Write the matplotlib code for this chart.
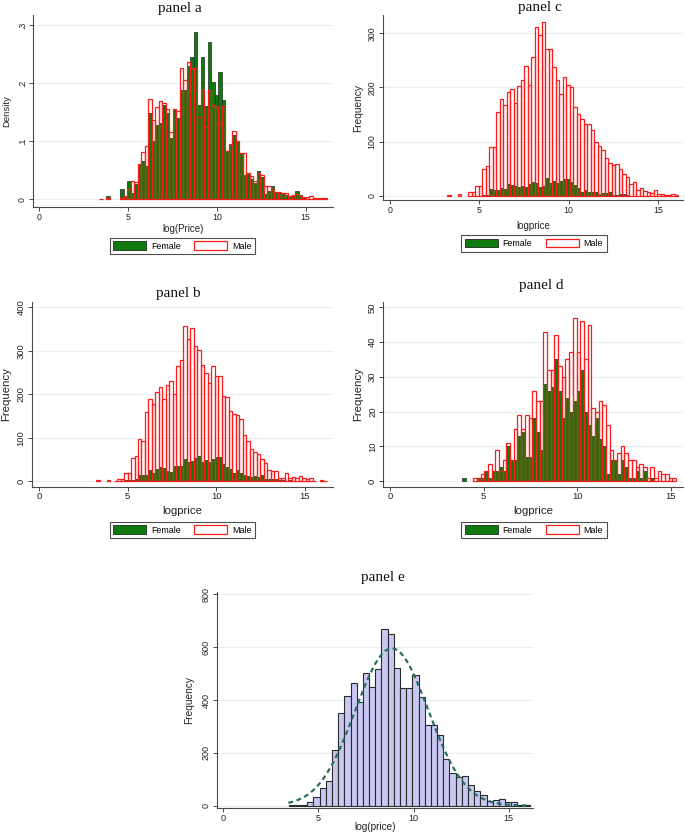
import matplotlib
matplotlib.use('Agg')
import matplotlib.pyplot as plt
import numpy as np
from matplotlib.patches import Patch

plt.rcParams['font.family'] = ['Liberation Sans', 'DejaVu Sans']

# ---------------- data ----------------
x_ticks = [0, 5, 10, 15]

# panel a (density)
a_start, a_width = 3.38, 0.197
a_female = [0, 0, 0.006, 0, 0, 0, 0.018, 0.004, 0.031, 0.010, 0.027, 0.061, 0.066, 0.058,
            0.149, 0.100, 0.127, 0.131, 0.162, 0.148, 0.105, 0.153, 0.140, 0.188, 0.188,
            0.230, 0.244, 0.288, 0.162, 0.244, 0.160, 0.271, 0.202, 0.180, 0.219, 0.171,
            0.083, 0.093, 0.110, 0.099, 0.079, 0.041, 0.046, 0.035, 0.028, 0.049, 0.039,
            0.009, 0.015, 0.022, 0.010, 0.012, 0.009, 0.007, 0.006, 0.006, 0.014, 0.008, 0.003]
a_male = [0.001, 0, 0.002, 0, 0, 0, 0.002, 0.006, 0.018, 0.032, 0.030, 0.061, 0.081, 0.091,
          0.172, 0.136, 0.158, 0.169, 0.166, 0.156, 0.116, 0.155, 0.152, 0.226, 0.205,
          0.237, 0.225, 0.226, 0.141, 0.188, 0.125, 0.188, 0.163, 0.161, 0.132, 0.160,
          0.083, 0.095, 0.118, 0.101, 0.079, 0.079, 0.046, 0.040, 0.032, 0.045, 0.042,
          0.022, 0.022, 0.018, 0.013, 0.013, 0.011, 0.010, 0.006, 0.008, 0.009, 0.006,
          0.004, 0.004, 0.005, 0.002, 0.002, 0.002, 0.002]
a_yticks = [0, 0.1, 0.2, 0.3]
a_yticklabels = ['0', '.1', '.2', '.3']

# panel b (frequency)
b_start, b_width = 3.22, 0.197
b_female = [0, 0, 0, 0, 0, 0, 1, 0, 2, 3, 2, 5, 14, 14, 13, 25, 19, 28, 32, 30,
            23, 20, 35, 35, 35, 50, 43, 47, 52, 57, 43, 49, 43, 50, 55, 56, 40, 33, 28, 18,
            25, 18, 13, 12, 10, 11, 10, 13, 5, 5, 5, 5, 2, 3, 1, 2, 1]
b_male = [2, 0, 0, 2, 0, 1, 5, 4, 18, 18, 54, 58, 97, 92, 160, 189, 177, 206, 217, 188,
          221, 231, 200, 266, 279, 357, 327, 352, 311, 302, 267, 249, 225, 266, 242, 243,
          197, 193, 161, 154, 151, 142, 107, 92, 73, 66, 63, 51, 42, 25, 24, 23, 8, 6, 18,
          6, 10, 6, 12, 6, 4, 6, 1, 0, 3, 1]
b_yticks = [0, 100, 200, 300, 400]

# panel c (frequency)
c_start, c_width = 3.21, 0.196
c_female = [0, 0, 0, 0, 0, 0, 0, 0, 0, 0, 1, 1, 12, 11, 10, 15, 13, 21, 19, 17,
            16, 17, 16, 21, 26, 23, 16, 17, 32, 23, 28, 23, 28, 30, 31, 26, 20, 15, 7, 10,
            7, 6, 7, 4, 5, 5, 7, 2, 1, 3, 3, 1]
c_male = [1, 0, 0, 4, 0, 0, 6, 6, 17, 17, 49, 55, 89, 89, 155, 178, 168, 192, 198, 172,
          203, 214, 240, 205, 257, 312, 297, 321, 271, 271, 237, 214, 188, 219, 205, 200,
          163, 150, 141, 133, 133, 121, 100, 92, 85, 69, 60, 57, 58, 50, 40, 35, 22, 25,
          10, 15, 8, 6, 5, 10, 3, 4, 1, 1, 3, 1]
c_yticks = [0, 100, 200, 300]

# panel d (frequency)
d_start, d_width = 3.85, 0.197
d_female = [1, 0, 0, 0, 1, 1, 3, 1, 3, 3, 4, 3, 10, 6, 6, 13, 14, 7, 7, 18,
            14, 9, 28, 26, 27, 35, 26, 18, 24, 20, 23, 26, 32, 20, 16, 13, 18, 12, 10, 2,
            6, 6, 2, 6, 4, 1, 1, 3, 1, 3, 0, 1]
d_male = [0, 0, 0, 1, 1, 2, 3, 5, 3, 9, 3, 6, 11, 6, 15, 19, 15, 19, 18, 26,
          23, 23, 43, 32, 32, 42, 33, 30, 35, 37, 47, 37, 46, 35, 45, 21, 20, 23, 22, 16,
          9, 6, 8, 10, 8, 6, 6, 4, 5, 4, 1, 4, 1, 3, 2, 2, 1, 1]
d_yticks = [0, 10, 20, 30, 40, 50]

# panel e (frequency, all)
e_start, e_width = 3.44, 0.325
e_counts = [1, 3, 2, 14, 32, 66, 92, 209, 350, 416, 464, 392, 503, 449, 517, 670, 650,
            520, 445, 447, 493, 411, 307, 304, 269, 177, 122, 110, 112, 78, 56, 39, 19,
            20, 25, 13, 13, 2, 3]
e_yticks = [0, 200, 400, 600, 800]
e_mean, e_sd = 8.86, 1.92
e_range = (3.42, 16.05)

# ---------------- style ----------------
W, H = 685, 835
GREEN = '#0f7a0f'
RED = '#ff1a1a'
GRID = '#e6eef0'
SPINE = '#4a4a4a'

fig = plt.figure(figsize=(W / 100, H / 100), dpi=100)
fig.patch.set_facecolor('white')


def make_axes(l, t, r, b):
    ax = fig.add_axes([l / W, 1 - b / H, (r - l) / W, (b - t) / H])
    for s in ['top', 'right']:
        ax.spines[s].set_visible(False)
    for s in ['left', 'bottom']:
        ax.spines[s].set_color(SPINE)
        ax.spines[s].set_linewidth(0.8)
    ax.tick_params(colors=SPINE, length=3, width=0.7, direction='out')
    ax.set_axisbelow(True)
    return ax, (l, t, r, b)


def style(ax, box, xlim, ylim, yticks, ytl, tick_fs, xlabel, ylabel, label_fs_x, label_fs_y,
          xlab_y, ylab_x):
    l, t, r, b = box
    ax.set_xlim(*xlim)
    ax.set_ylim(*ylim)
    ax.set_xticks(x_ticks)
    ax.set_xticklabels([str(v) for v in x_ticks], fontsize=tick_fs, color='#222222')
    ax.set_yticks(yticks)
    ax.set_yticklabels(ytl, fontsize=tick_fs, color='#222222', rotation=90, va='center')
    ax.tick_params(axis='x', pad=1)
    ax.tick_params(axis='y', pad=1.5)
    ax.yaxis.grid(True, color=GRID, linewidth=0.8)
    ax.set_xlabel(xlabel, fontsize=label_fs_x, color='#222222')
    ax.xaxis.set_label_coords(0.5, (b - xlab_y) / (b - t))
    ax.xaxis.label.set_va('center')
    ax.set_ylabel(ylabel, fontsize=label_fs_y, color='#222222')
    ax.yaxis.set_label_coords((ylab_x - l) / (r - l), 0.5)
    ax.yaxis.label.set_va('center')


def draw_gender(ax, start, width, female, male):
    f = np.asarray(female, float)
    m = np.asarray(male, float)
    fl = start + width * np.arange(len(f))
    ml = start + width * np.arange(len(m))
    fk = f > 0
    mk = m > 0
    ax.bar(fl[fk], f[fk], width=width, align='edge', color=GREEN, edgecolor='#1c2a1c',
           linewidth=0.5, zorder=2)
    ax.bar(ml[mk], m[mk], width=width, align='edge', facecolor='none', edgecolor=RED,
           linewidth=0.9, zorder=3)


def legend_at(cx, cy, fs):
    handles = [Patch(facecolor=GREEN, edgecolor='#1c2a1c', linewidth=0.6, label='Female'),
               Patch(facecolor='white', edgecolor=RED, linewidth=0.9, label='Male')]
    lg = fig.legend(handles=handles, loc='center', bbox_to_anchor=(cx / W, 1 - cy / H),
                    ncol=2, fontsize=fs, frameon=True, fancybox=False, handlelength=3.7,
                    handleheight=1.05, handletextpad=0.55, columnspacing=1.5,
                    borderpad=0.42, borderaxespad=0)
    lg.get_frame().set_edgecolor('#222222')
    lg.get_frame().set_linewidth(0.8)


def title_at(cx, cy, s):
    fig.text(cx / W, 1 - cy / H, s, ha='center', va='center', fontsize=11,
             family=['Liberation Serif', 'DejaVu Serif'], color='#111111')


# panel a
ax, box = make_axes(33.3, 15, 333, 207.3)
draw_gender(ax, a_start, a_width, a_female, a_male)
style(ax, box, (-0.32, 16.54), (-0.0138, 0.317), a_yticks, a_yticklabels, 6.3,
      'log(Price)', 'Density', 7, 6.8, 229.3, 6.7)
legend_at(182.5, 246, 6.4)
title_at(180, 8.3, 'panel a')

# panel c
ax, box = make_axes(382.7, 15, 683, 200)
draw_gender(ax, c_start, c_width, c_female, c_male)
style(ax, box, (-0.41, 16.41), (-8, 333.8), c_yticks, [str(v) for v in c_yticks], 6.3,
      'logprice', 'Frequency', 7, 7.3, 226, 358.3)
legend_at(534, 243.7, 6.4)
title_at(540, 7.3, 'panel c')

# panel b
ax, box = make_axes(31.7, 301.7, 333, 486.7)
draw_gender(ax, b_start, b_width, b_female, b_male)
style(ax, box, (-0.41, 16.58), (-13, 413), b_yticks, [str(v) for v in b_yticks], 6.8,
      'logprice', 'Frequency', 8.2, 8.2, 510.7, 6)
legend_at(182.5, 530, 6.4)
title_at(178, 293.3, 'panel b')

# panel d
ax, box = make_axes(383.3, 301.7, 683.3, 486.7)
draw_gender(ax, d_start, d_width, d_female, d_male)
style(ax, box, (-0.36, 15.66), (-1.64, 51.6), d_yticks, [str(v) for v in d_yticks], 6.8,
      'logprice', 'Frequency', 8.2, 8.2, 510.7, 358.3)
legend_at(534, 530, 6.4)
title_at(541.7, 285, 'panel d')

# panel e
ax, box = make_axes(216.7, 591.7, 533.3, 808.3)
ec = np.asarray(e_counts, float)
el = e_start + e_width * np.arange(len(ec))
ax.bar(el, ec, width=e_width, align='edge', color='#c8c8f2', edgecolor='#2a2a2a',
       linewidth=0.8, zorder=2)
xs = np.linspace(e_range[0], e_range[1], 300)
n_total = ec.sum()
ys = n_total * e_width / (e_sd * np.sqrt(2 * np.pi)) * np.exp(-0.5 * ((xs - e_mean) / e_sd) ** 2)
ax.plot(xs, ys, color='#2a6e60', linewidth=1.6, linestyle=(0, (2.2, 1.6)), zorder=3)
style(ax, box, (-0.35, 16.3), (-9.8, 809.8), e_yticks, [str(v) for v in e_yticks], 6.5,
      'log(price)', 'Frequency', 7.2, 7.3, 826.7, 189.3)
title_at(383, 578, 'panel e')

fig.savefig('out.png', dpi=100, facecolor='white')
